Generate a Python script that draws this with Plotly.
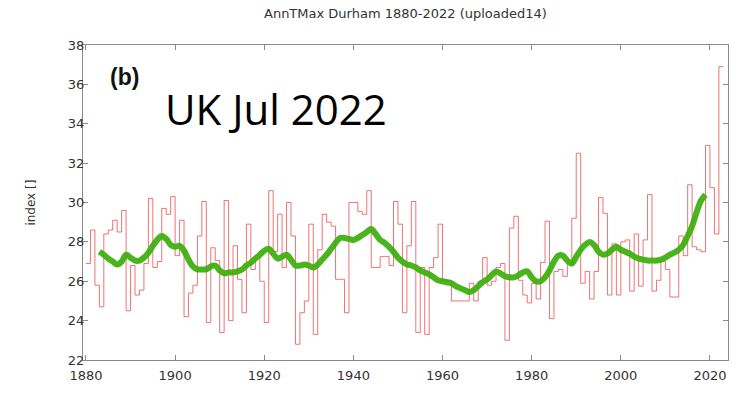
import plotly.graph_objects as go

# Annual maximum temperature, Durham, 1880-2022
years = list(range(1880, 2023))
tmax = [
    26.9, 28.6, 25.8, 24.7, 28.4, 28.6, 29.1, 28.5, 29.6, 24.5,   # 1880s
    26.8, 25.3, 25.55, 26.9, 30.2, 26.7, 27.0, 29.7, 29.4, 30.3,  # 1890s
    27.3, 29.1, 24.2, 25.4, 25.8, 28.3, 30.05, 23.9, 27.7, 27.05, # 1900s
    23.4, 30.1, 24.0, 27.8, 26.1, 24.4, 28.9, 26.6, 27.3, 26.0,   # 1910s
    23.9, 30.6, 27.5, 29.4, 26.7, 30.0, 28.3, 22.8, 24.4, 25.0,   # 1920s
    28.9, 23.3, 27.6, 29.4, 29.0, 28.8, 26.1, 26.1, 24.4, 30.0,   # 1930s
    30.0, 29.55, 29.4, 30.6, 26.7, 26.7, 27.25, 27.25, 26.8, 30.05,  # 1940s
    28.9, 24.4, 27.8, 30.05, 23.4, 26.7, 23.3, 26.7, 27.2, 28.9,  # 1950s
    26.05, 26.05, 25.0, 25.0, 25.0, 25.0, 25.9, 25.0, 26.0, 27.2, # 1960s
    25.8, 26.0, 26.7, 26.9, 23.0, 28.7, 29.3, 26.05, 25.3, 24.9,  # 1970s
    25.9, 25.1, 26.95, 29.05, 24.1, 26.5, 26.6, 26.25, 26.95, 29.2,  # 1980s
    32.5, 25.9, 26.5, 25.1, 26.5, 30.25, 29.45, 25.3, 27.9, 25.3, # 1990s
    28.0, 28.1, 25.5, 28.4, 25.75, 28.1, 30.4, 25.5, 26.05, 27.0, # 2000s
    26.6, 25.2, 25.2, 28.3, 27.3, 30.9, 27.75, 27.6, 27.5, 32.9,  # 2010s
    30.75, 28.4, 36.9,                                            # 2020-2022
]

# Smoothed trend
smooth_years = list(range(1883, 2020))
smooth_vals = [
    27.5, 27.35, 27.15, 27.0, 26.85, 27.0, 27.35,
    27.2, 27.05, 27.05, 27.2, 27.45, 27.8, 28.1, 28.3, 28.15, 27.85,
    27.75, 27.8, 27.55, 27.1, 26.75, 26.6, 26.6, 26.6, 26.75, 26.8,
    26.55, 26.4, 26.45, 26.45, 26.5, 26.6, 26.8, 26.95, 27.15, 27.35,
    27.55, 27.65, 27.4, 27.15, 27.25, 27.35, 27.1, 26.8, 26.8, 26.85,
    26.8, 26.7, 26.85, 27.1, 27.35, 27.65, 27.95, 28.2, 28.2, 28.15,
    28.1, 28.2, 28.35, 28.5, 28.65, 28.4, 28.1, 27.95, 27.75, 27.5,
    27.2, 27.0, 26.85, 26.8, 26.7, 26.55, 26.45, 26.35, 26.2, 26.05,
    26.0, 25.95, 25.9, 25.75, 25.65, 25.55, 25.45, 25.55, 25.75, 25.95,
    26.1, 26.3, 26.5, 26.4, 26.25, 26.2, 26.2, 26.3, 26.45, 26.5,
    26.2, 26.0, 26.0, 26.2, 26.55, 27.0, 27.3, 27.3, 27.05, 26.9,
    27.25, 27.6, 27.85, 28.0, 27.85, 27.5, 27.35, 27.4, 27.6, 27.75,
    27.6, 27.5, 27.4, 27.25, 27.15, 27.1, 27.05, 27.05, 27.05, 27.1,
    27.2, 27.35, 27.45, 27.6, 27.85, 28.3, 28.8, 29.5, 30.1, 30.4,
]

y_ticks = [22, 24, 26, 28, 30, 32, 34, 36, 38]
x_ticks = [1880, 1900, 1920, 1940, 1960, 1980, 2000, 2020]

# close the last annual step
step_x = years + [years[-1] + 1]
step_y = tmax + [tmax[-1]]

fig = go.Figure()
fig.add_trace(go.Scatter(
    x=step_x, y=step_y, mode="lines", line_shape="hv",
    line=dict(color="rgba(232,70,70,0.75)", width=1),
    hoverinfo="skip", showlegend=False,
))
fig.add_trace(go.Scatter(
    x=smooth_years, y=smooth_vals, mode="lines", line_shape="spline",
    line=dict(color="rgba(58,175,10,0.92)", width=6),
    hoverinfo="skip", showlegend=False,
))

axis_common = dict(
    showline=True, linecolor="#8a8a8a", linewidth=1, mirror="ticks",
    ticks="inside", ticklen=5, tickcolor="#8a8a8a", showgrid=False,
    zeroline=False, tickfont=dict(family="DejaVu Sans", size=13, color="#333333"),
)
fig.update_xaxes(range=[1879.33, 2024.05], tickvals=x_ticks,
                 ticktext=[str(t) for t in x_ticks], ticklabelstandoff=3,
                 **axis_common)
fig.update_yaxes(range=[22, 38], tickvals=y_ticks,
                 ticktext=[str(t) for t in y_ticks], ticklabelstandoff=-5,
                 **axis_common)

fig.update_layout(
    width=744, height=395,
    margin=dict(l=83, r=16, t=45, b=30),
    paper_bgcolor="white", plot_bgcolor="white",
    annotations=[
        dict(text="AnnTMax Durham 1880-2022 (uploaded14)", xref="paper", yref="paper",
             x=0.5, y=1.1, xanchor="center", yanchor="middle", showarrow=False,
             font=dict(family="DejaVu Sans", size=13, color="#333333")),
        dict(text="index []", xref="paper", yref="paper", textangle=-90,
             x=-0.082, y=0.5, xanchor="center", yanchor="middle", showarrow=False,
             font=dict(family="DejaVu Sans", size=12, color="#333333")),
        dict(text="<b>(b)</b>", xref="paper", yref="paper",
             x=0.065, y=0.897, xanchor="center", yanchor="middle", showarrow=False,
             font=dict(family="Liberation Sans", size=23, color="#111111")),
        dict(text="UK Jul 2022", xref="paper", yref="paper",
             x=0.299, y=0.797, xanchor="center", yanchor="middle", showarrow=False,
             font=dict(family="Open Sans", size=42, color="#000000")),
    ],
)

fig.write_html("out.html")
